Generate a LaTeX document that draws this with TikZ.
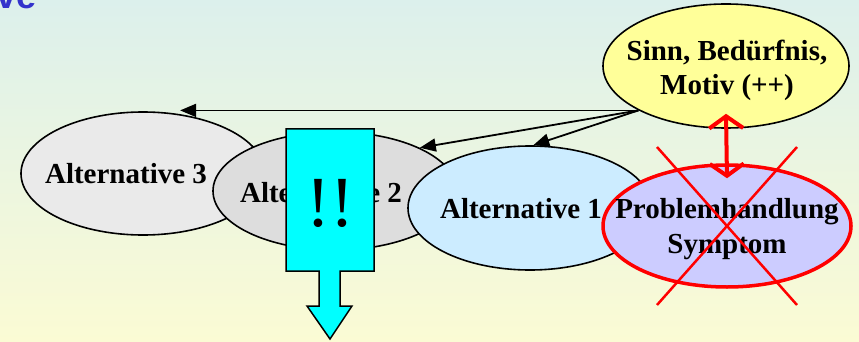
\documentclass[tikz,border=0pt]{standalone}
\usepackage{fontspec}
\setmainfont{Liberation Serif}
\newfontfamily\sansb{Liberation Sans}
\usetikzlibrary{shapes.geometric,arrows.meta}
\definecolor{bgtop}{RGB}{220,240,236}
\definecolor{bgbot}{RGB}{251,251,212}
\definecolor{altthree}{RGB}{234,234,234}
\definecolor{alttwo}{RGB}{221,221,221}
\definecolor{altone}{RGB}{204,236,255}
\definecolor{sinnfill}{RGB}{255,255,153}
\definecolor{probfill}{RGB}{204,204,255}
\definecolor{titleblue}{RGB}{51,51,204}
\definecolor{cyanfill}{RGB}{0,255,255}
\begin{document}
\begin{tikzpicture}[x=1pt,y=-1pt,
  oval/.style={ellipse, draw=black, line width=1.6pt, inner sep=0pt},
  lbl/.style={font=\bfseries\fontsize{29}{34}\selectfont, inner sep=0pt, anchor=base},
  conn/.style={line width=1.8pt, -{Triangle[length=16pt,width=13pt]}},
  redarr/.style={draw=red, line width=4pt, {Straight Barb[length=12pt,width=34pt]}-{Straight Barb[length=12pt,width=34pt]}},
  cross/.style={draw=red, line width=2.5pt},
  blockarrow/.style={draw=black, line width=1.5pt, fill=cyanfill, line join=miter}]
\shade[top color=bgtop, bottom color=bgbot] (0,0) rectangle (859,342);
\useasboundingbox (0,0) rectangle (859,342);
\begin{scope}
  \clip (0,0) rectangle (859,342);
  \node[anchor=base east, inner sep=0pt, text=titleblue, font=\sansb\bfseries\fontsize{36}{40}\selectfont] (title) at (37,9) {ve};
\end{scope}
% alternatives
\node[oval, fill=altthree, minimum width=244pt, minimum height=123pt] (alt3) at (143,173.5) {};
\node[lbl] (t3) at (126,183) {Alternative 3};
\node[oval, fill=alttwo, minimum width=244pt, minimum height=118pt] (alt2) at (335,191) {};
\node[lbl] (t2) at (321,202) {Alternative 2};
\node[oval, fill=altone, minimum width=244pt, minimum height=124pt] (alt1) at (530,208) {};
\node[lbl] (t1) at (521,218) {Alternative 1};
% problem
\node[oval, draw=red, line width=3.5pt, fill=probfill, minimum width=248pt, minimum height=122pt] (prob) at (727,226) {};
\node[lbl] (p1) at (727,218) {Problemhandlung};
\node[lbl] (p2) at (727,253) {Symptom};
% sinn
\node[oval, fill=sinnfill, minimum width=246pt, minimum height=124pt] (sinn) at (726,66) {};
\node[lbl] (s1) at (727,61) {Sinn, Bedürfnis,};
\node[lbl] (s2) at (727,95) {Motiv (++)};
% connectors
\draw[conn] (sinn.south west) -- (sinn.south west -| alt3.58);
\draw[conn] (sinn.south west) -- (alt2.27);
\draw[conn] (sinn.south west) -- (alt1.87);
\draw[redarr] ([yshift=15pt]sinn.south) -- ([yshift=-15pt]prob.north);
% red cross
\draw[cross] ([shift={(-70pt,79pt)}]prob.center) -- ([shift={(70pt,-79pt)}]prob.center);
\draw[cross] ([shift={(70pt,79pt)}]prob.center) -- ([shift={(-70pt,-79pt)}]prob.center);
% cyan block arrow
\draw[blockarrow] (286,129) -- (374,129) -- (374,271) -- (340,271) -- (340,306) -- (352,306) -- (330,339) -- (307,306) -- (319,306) -- (319,271) -- (286,271) -- cycle;
\node[anchor=base, inner sep=0pt, font=\fontsize{72}{72}\selectfont] (bang) at (330,226) {!!};
\end{tikzpicture}
\end{document}
